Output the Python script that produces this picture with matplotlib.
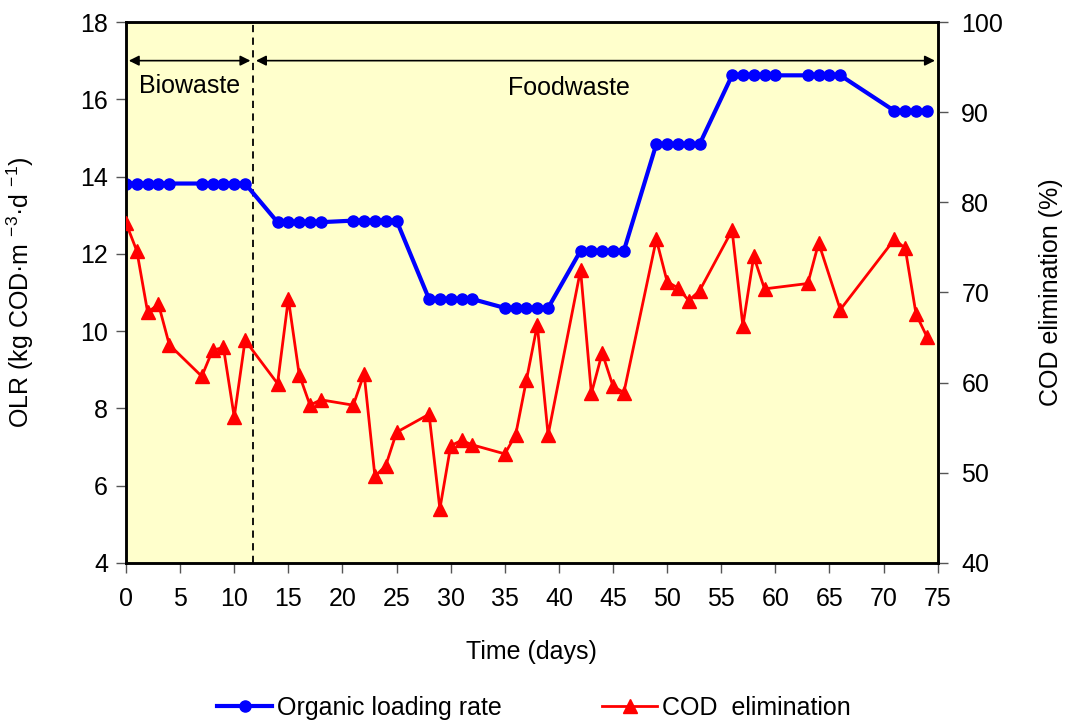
import numpy as np
import matplotlib.pyplot as plt
from matplotlib.lines import Line2D

plt.rcParams['font.family'] = ['Liberation Sans', 'DejaVu Sans']
plt.rcParams['mathtext.default'] = 'regular'

# organic loading rate (kg COD m-3 d-1)
olr_days = [0, 1, 2, 3, 4, 7, 8, 9, 10, 11, 14, 15, 16, 17, 18, 21, 22, 23, 24, 25,
            28, 29, 30, 31, 32, 35, 36, 37, 38, 39, 42, 43, 44, 45, 46, 49, 50, 51, 52, 53,
            56, 57, 58, 59, 60, 63, 64, 65, 66, 71, 72, 73, 74]
olr = [13.82] * 10 + [12.82] * 5 + [12.86] * 5 + [10.83] * 5 + [10.6] * 5 + \
      [12.08] * 5 + [14.84] * 5 + [16.62] * 9 + [15.7] * 4

# COD elimination (%)
cod_days = [0, 1, 2, 3, 4, 7, 8, 9, 10, 11, 14, 15, 16, 17, 18, 21, 22, 23, 24, 25,
            28, 29, 30, 31, 32, 35, 36, 37, 38, 39, 42, 43, 44, 45, 46, 49, 50, 51, 52, 53,
            56, 57, 58, 59, 63, 64, 66, 71, 72, 73, 74]
cod = [77.7, 74.6, 67.8, 68.7, 64.2, 60.7, 63.6, 63.9, 56.2, 64.7,
       59.9, 69.3, 60.9, 57.5, 58.1, 57.5, 61.0, 49.6, 50.8, 54.5,
       56.5, 46.0, 53.0, 53.6, 53.1, 52.1, 54.2, 60.3, 66.4, 54.2,
       72.5, 58.8, 63.3, 59.6, 58.9, 75.9, 71.2, 70.5, 69.1, 70.2,
       76.9, 66.3, 74.0, 70.4, 71.0, 75.5, 68.1, 75.9, 74.9, 67.6, 65.1]

switch_day = 11.75
fs = 18

fig = plt.figure(figsize=(10.68, 7.24), dpi=100)
ax = fig.add_axes([0.118, 0.2224, 0.76, 0.7472])
ax.set_facecolor('#FFFFCC')
ax2 = ax.twinx()

ax.plot(olr_days, olr, color='#0000FF', lw=3, marker='o', ms=8, zorder=4)
ax2.plot(cod_days, cod, color='#FF0000', lw=2, marker='^', ms=10, zorder=3)

ax.set_xlim(0, 75)
ax.set_ylim(4, 18)
ax2.set_ylim(40, 100)
ax.set_xticks(np.arange(0, 76, 5))
ax.set_yticks(np.arange(4, 19, 2))
ax2.set_yticks(np.arange(40, 101, 10))

ax2.set_zorder(3)
ax.set_zorder(2)
ax2.patch.set_visible(False)

for a in (ax, ax2):
    for s in a.spines.values():
        s.set_linewidth(1.8)
    a.tick_params(labelsize=fs, length=7, width=1, direction='out', color='#555555')
ax.tick_params(axis='x', pad=10)
ax.tick_params(axis='y', pad=6)
ax2.tick_params(axis='y', pad=10)

ax.set_xlabel('Time (days)', fontsize=fs, labelpad=21)
ax.set_ylabel('OLR (kg COD·m $^{-3}$·d $^{-1}$)', fontsize=fs, labelpad=32)
ax2.set_ylabel('COD elimination (%)', fontsize=fs, labelpad=26)

# phase markers
ax.axvline(switch_day, color='black', lw=1.3, ls=(0, (4, 3)), zorder=1)
ax.annotate('', xy=(0, 17), xytext=(switch_day, 17),
            arrowprops=dict(arrowstyle='<|-|>', color='black', lw=1.2, mutation_scale=15))
ax.annotate('', xy=(switch_day, 17), xytext=(75, 17),
            arrowprops=dict(arrowstyle='<|-|>', color='black', lw=1.2, mutation_scale=15))
ax.text(5.9, 16.35, 'Biowaste', fontsize=fs, ha='center', va='center')
ax.text(40.9, 16.3, 'Foodwaste', fontsize=fs, ha='center', va='center')

handles = [Line2D([], [], color='#0000FF', lw=3, marker='o', ms=8),
           Line2D([], [], color='#FF0000', lw=2, marker='^', ms=10)]
fig.legend(handles, ['Organic loading rate', 'COD  elimination'], loc='center',
           bbox_to_anchor=(0.5, 0.022), ncol=2, frameon=False, fontsize=fs,
           handlelength=2.2, columnspacing=4, handletextpad=0.2)

fig.savefig('out.png', dpi=100)
